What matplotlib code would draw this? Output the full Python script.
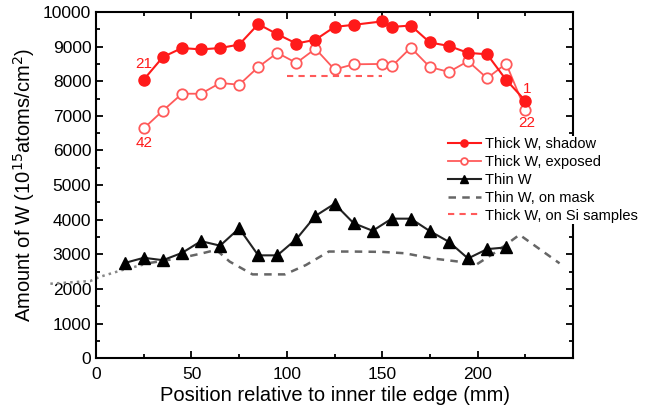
import matplotlib
matplotlib.use('Agg')
import matplotlib.pyplot as plt
from matplotlib.ticker import MultipleLocator

plt.rcParams['font.family'] = ['Liberation Sans', 'DejaVu Sans']

# Thick W, shadow side (filled circles), sample 21 ... 1
thick_x = [25, 35, 45, 55, 65, 75, 85, 95, 105, 115, 125, 135, 150,
           155, 165, 175, 185, 195, 205, 215, 225]
shadow_y = [8050, 8700, 8960, 8920, 8960, 9060, 9650, 9360, 9090, 9200, 9570,
            9630, 9730, 9570, 9610, 9120, 9020, 8820, 8780, 8040, 7440]
# Thick W, exposed side (open circles), sample 42 ... 22
exposed_y = [6640, 7150, 7640, 7640, 7950, 7900, 8410, 8820, 8530, 8940, 8340,
             8490, 8500, 8430, 8970, 8410, 8270, 8580, 8090, 8510, 7180]

# Thin W (triangles)
thin_x = [15, 25, 35, 45, 55, 65, 75, 85, 95, 105, 115, 125, 135, 145,
          155, 165, 175, 185, 195, 205, 215]
thin_y = [2750, 2900, 2830, 3040, 3380, 3250, 3750, 2970, 2970, 3440, 4110,
          4460, 3900, 3680, 4030, 4030, 3670, 3360, 2880, 3150, 3200]

# Thin W on mask (dotted part, then dashed part)
mask_dot_x = [-24, -3, 2, 14, 28]
mask_dot_y = [2150, 2230, 2350, 2550, 2750]
mask_x = [28, 44, 55, 63, 70, 82, 99, 110, 122, 134, 150, 162, 175, 190,
          199, 210, 222, 243]
mask_y = [2750, 2890, 3020, 3130, 2790, 2420, 2420, 2690, 3080, 3080, 3070,
          3030, 2890, 2790, 2690, 3080, 3565, 2740]

# Thick W on Si samples
si_x = [100, 150]
si_y = [8150, 8150]

red = '#ff1a1a'
red_light = '#ff5a5a'

fig = plt.figure(figsize=(6.54, 4.15), dpi=100)
ax = fig.add_axes([0.147, 0.137, 0.729, 0.834])

ax.plot(thick_x, shadow_y, '-o', color=red, lw=1.5, ms=8,
        mfc=red, mec=red, label='Thick W, shadow', zorder=4)
ax.plot(thick_x, exposed_y, '-o', color=red_light, lw=1.3, ms=7.5,
        mfc='white', mec=red_light, mew=1.3, label='Thick W, exposed', zorder=3)
ax.plot(thin_x, thin_y, '-^', color='#222222', lw=1.5, ms=9,
        mfc='black', mec='black', label='Thin W', zorder=3)
ax.plot(mask_x, mask_y, '--', color='#666666', lw=1.8, dashes=(3, 2.5),
        label='Thin W, on mask', zorder=2)
ax.plot(mask_dot_x, mask_dot_y, ':', color='#888888', lw=1.8,
        clip_on=False, zorder=2)
ax.plot(si_x, si_y, '--', color=red_light, lw=1.5, dashes=(3, 2.5),
        label='Thick W, on Si samples', zorder=2)

ax.text(25, 8490, '21', color=red, fontsize=11, ha='center', va='center')
ax.text(25, 6220, '42', color=red, fontsize=11, ha='center', va='center')
ax.text(226, 7790, '1', color=red, fontsize=11, ha='center', va='center')
ax.text(226, 6800, '22', color=red, fontsize=11, ha='center', va='center')

ax.set_xlim(0, 250)
ax.set_ylim(0, 10000)
ax.xaxis.set_major_locator(MultipleLocator(50))
ax.xaxis.set_minor_locator(MultipleLocator(25))
ax.yaxis.set_major_locator(MultipleLocator(1000))
ax.yaxis.set_minor_locator(MultipleLocator(500))
ax.set_xticks([0, 50, 100, 150, 200])
ax.tick_params(which='both', direction='in', top=True, right=True,
               labelsize=12.5, width=1.3)
ax.tick_params(axis='x', pad=6.5)
ax.tick_params(which='major', length=5)
ax.tick_params(which='minor', length=3)
for s in ax.spines.values():
    s.set_linewidth(1.5)

ax.set_xlabel('Position relative to inner tile edge (mm)', fontsize=14.5,
              labelpad=3)
ax.set_ylabel('Amount of W (10$^{15}$atoms/cm$^{2}$)', fontsize=14.5)

leg = ax.legend(loc='upper left', bbox_to_anchor=(0.734, 0.642), frameon=True,
                fontsize=10.5, handlelength=2.3, handletextpad=0.3,
                labelspacing=0.26, borderpad=0.1, borderaxespad=0,
                markerscale=0.65)
leg.get_frame().set_edgecolor('none')
leg.get_frame().set_facecolor('white')
leg.get_frame().set_alpha(1)
leg.set_zorder(10)

fig.savefig('out.png', dpi=100)
